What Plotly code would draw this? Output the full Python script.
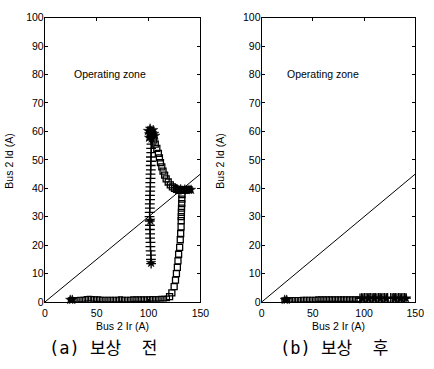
import plotly.graph_objects as go

# ---------------- data ----------------
x_ticks = [0, 50, 100, 150]
y_ticks = [0, 10, 20, 30, 40, 50, 60, 70, 80, 90, 100]

boundary_x = [0, 150]
boundary_y = [0, 45]

# panel (a) - before compensation
a_plus_x = [102.5, 102.3, 102.4, 102.0, 101.8, 101.9, 101.5, 101.6, 101.3, 101.4, 101.2, 101.0,
            101.1, 101.3, 101.2, 101.5, 101.4, 101.6, 101.8, 101.7, 102.0, 101.9, 102.2, 102.1,
            102.4, 102.3, 102.6, 102.5, 102.8, 102.7, 103.0, 102.6]
a_plus_y = [13.5, 15.0, 16.5, 18.0, 19.5, 21.0, 22.5, 24.0, 25.5, 27.0, 28.5, 30.0,
            31.5, 33.0, 34.5, 36.0, 37.5, 39.0, 40.5, 42.0, 43.5, 45.0, 46.5, 48.0,
            49.5, 51.0, 52.5, 54.0, 55.5, 57.0, 58.5, 60.0]

a_star_x = [102.5, 101.8, 99.5, 100.5, 101.5, 102.5, 103.5, 104.5, 105.5, 106.5, 100.5, 103.0,
            127.0, 129.0, 131.0, 133.0, 135.0, 137.0, 139.0, 141.0, 24.5, 26.5]
a_star_y = [13.8, 28.7, 60.2, 59.0, 61.0, 60.0, 59.5, 60.5, 59.2, 58.5, 57.8, 57.5,
            39.8, 39.3, 39.7, 39.2, 39.6, 39.4, 39.5, 39.5, 0.8, 0.8]

a_sq_x = [103.5, 105.0, 106.5, 108.0, 109.5, 110.5, 111.5, 112.8, 114.0, 115.5, 117.0, 119.0,
          121.0, 123.0, 125.0, 127.0, 129.0, 131.0, 133.0, 135.0, 137.0, 139.0,
          132.2, 132.1, 132.0, 131.8, 131.7, 131.6, 131.5, 131.4, 131.0, 130.6, 130.0, 129.0,
          128.4, 127.8, 126.9, 126.0, 124.7, 122.5, 120.3]
a_sq_y = [58.5, 57.0, 55.5, 54.0, 52.3, 50.7, 49.0, 47.5, 46.0, 44.6, 43.3, 42.2,
          41.2, 40.5, 40.0, 39.6, 39.4, 39.3, 39.3, 39.4, 39.5, 39.5,
          37.8, 36.2, 34.6, 33.0, 31.5, 30.0, 28.6, 26.4, 24.1, 21.9, 19.2, 16.8,
          14.5, 12.2, 10.0, 7.7, 5.4, 3.2, 1.9]

a_low_x = [25, 28, 31, 34, 37, 40, 43, 46, 49, 52, 55, 58, 61, 64, 67, 70, 73, 76, 79, 82,
           85, 88, 91, 94, 97, 100, 103, 106, 109, 112, 115, 118]
a_low_y = [0.7, 0.8, 0.8, 0.9, 0.9, 1.1, 1.2, 1.1, 1.0, 1.0, 0.9, 0.9, 0.9, 0.9, 0.9, 0.9,
           1.0, 0.9, 0.9, 0.9, 1.0, 1.0, 1.0, 1.0, 1.0, 1.0, 1.1, 1.1, 1.1, 1.2, 1.2, 1.3]

# panel (b) - after compensation
b_low_x = [22, 25, 28, 31, 34, 37, 40, 43, 46, 49, 52, 55, 58, 61, 64, 67, 70, 73, 76, 79,
           82, 85, 88, 91, 94]
b_low_y = [0.7, 0.7, 0.8, 0.8, 0.8, 0.8, 0.9, 0.9, 0.9, 0.9, 0.9, 1.0, 1.0, 1.0, 1.0, 1.0,
           1.0, 1.0, 1.0, 1.0, 1.0, 1.0, 1.0, 1.0, 1.0]

b_plus_x = [96, 97.5, 99, 100.5, 102, 103.5, 105, 106.5, 108, 109.5, 111, 112.5, 114, 115.5,
            117, 118.5, 120, 121.5, 123, 126, 127.5, 129, 130.5, 132, 133.5, 135, 136.5, 138,
            139.5, 141]
b_plus_y = [1.3, 1.4, 1.4, 1.5, 1.5, 1.4, 1.5, 1.5, 1.4, 1.5, 1.5, 1.4, 1.5, 1.5,
            1.4, 1.5, 1.5, 1.4, 1.5, 1.5, 1.4, 1.5, 1.5, 1.4, 1.5, 1.5, 1.4, 1.5,
            1.5, 1.4]

b_star_x = [22.5, 24.5, 98, 104, 110, 116, 122, 130, 136, 141]
b_star_y = [0.8, 0.8, 1.3, 1.3, 1.3, 1.3, 1.3, 1.3, 1.3, 1.3]

# ---------------- figure ----------------
BLACK = "#000000"
FONT = "Liberation Sans, Arial, sans-serif"
CAP_FONT = "DejaVu Sans Mono, Noto Sans CJK KR, monospace"

fig = go.Figure()


def add_panel(xa, ya, sq_x, sq_y, low_x, low_y, plus_x, plus_y, star_x, star_y):
    fig.add_trace(go.Scatter(x=boundary_x, y=boundary_y, mode="lines",
                             line=dict(color=BLACK, width=1), xaxis=xa, yaxis=ya,
                             showlegend=False, hoverinfo="skip"))
    if sq_x:
        fig.add_trace(go.Scatter(x=sq_x, y=sq_y, mode="markers", xaxis=xa, yaxis=ya,
                                 marker=dict(symbol="square-open", size=6, color=BLACK,
                                             line=dict(width=1.3, color=BLACK)),
                                 showlegend=False, cliponaxis=False))
    fig.add_trace(go.Scatter(x=low_x, y=low_y, mode="markers", xaxis=xa, yaxis=ya,
                             marker=dict(symbol="square-open", size=4.5, color=BLACK,
                                         line=dict(width=1.2, color=BLACK)),
                             showlegend=False, cliponaxis=False))
    fig.add_trace(go.Scatter(x=plus_x, y=plus_y, mode="markers", xaxis=xa, yaxis=ya,
                             marker=dict(symbol="cross-thin-open", size=7, color=BLACK,
                                         line=dict(width=1.3, color=BLACK)),
                             showlegend=False, cliponaxis=False))
    fig.add_trace(go.Scatter(x=star_x, y=star_y, mode="markers", xaxis=xa, yaxis=ya,
                             marker=dict(symbol="star", size=7, color=BLACK,
                                         line=dict(width=0.5, color=BLACK)),
                             showlegend=False, cliponaxis=False))


add_panel("x", "y", a_sq_x, a_sq_y, a_low_x, a_low_y, a_plus_x, a_plus_y, a_star_x, a_star_y)
add_panel("x2", "y2", [], [], b_low_x, b_low_y, b_plus_x, b_plus_y, b_star_x, b_star_y)

ydom = [1 - 306 / 369, 1 - 12 / 369]
axis_common = dict(
    showgrid=False, zeroline=False, showline=True, linecolor=BLACK, linewidth=1,
    mirror="allticks", ticks="inside", ticklen=3, tickcolor=BLACK, tickwidth=1,
    tickfont=dict(family=FONT, size=10.5, color=BLACK),
)

fig.update_layout(
    width=434, height=369,
    margin=dict(l=0, r=0, t=0, b=0),
    paper_bgcolor="white", plot_bgcolor="white",
    xaxis=dict(domain=[43 / 434, 203 / 434], range=[0, 150], tickvals=x_ticks,
               anchor="y", ticklabelstandoff=1, **axis_common),
    yaxis=dict(domain=ydom, range=[0, 100], tickvals=y_ticks, anchor="x",
               ticklabelstandoff=-2, **axis_common),
    xaxis2=dict(domain=[266 / 434, 424 / 434], range=[0, 150], tickvals=x_ticks,
                anchor="y2", ticklabelstandoff=1, **axis_common),
    yaxis2=dict(domain=ydom, range=[0, 100], tickvals=y_ticks, anchor="x2",
                ticklabelstandoff=-2, **axis_common),
)

ann = []
for cx, yx, capx, cap, xa, ya, zx in [
        (123, 6, 102.5, "(a)\u00a0보상\u00a0\u00a0전", "x", "y", 26),
        (345, 223, 340.5, "(b)\u00a0보상\u00a0\u00a0후", "x2", "y2", 23)]:
    ann.append(dict(text="Bus 2 Ir (A)", x=cx / 434, y=1 - 331 / 369, xref="paper", yref="paper",
                    xanchor="center", yanchor="middle",
                    showarrow=False, font=dict(family=FONT, size=10.5, color=BLACK)))
    ann.append(dict(text="Bus 2 Id (A)", x=yx / 434, y=1 - 160 / 369, xref="paper", yref="paper",
                    xanchor="center", yanchor="middle",
                    textangle=-90, showarrow=False, font=dict(family=FONT, size=10.5, color=BLACK)))
    ann.append(dict(text=cap, x=capx / 434, y=1 - 353 / 369, xref="paper", yref="paper",
                    xanchor="center", yanchor="middle",
                    showarrow=False, font=dict(family=CAP_FONT, size=17, color=BLACK)))
    ann.append(dict(text="Operating zone", x=zx, y=80, xref=xa, yref=ya, xanchor="left",
                    yanchor="middle",
                    showarrow=False, font=dict(family=FONT, size=10.5, color=BLACK)))
fig.update_layout(annotations=ann)

fig.write_html("out.html")
